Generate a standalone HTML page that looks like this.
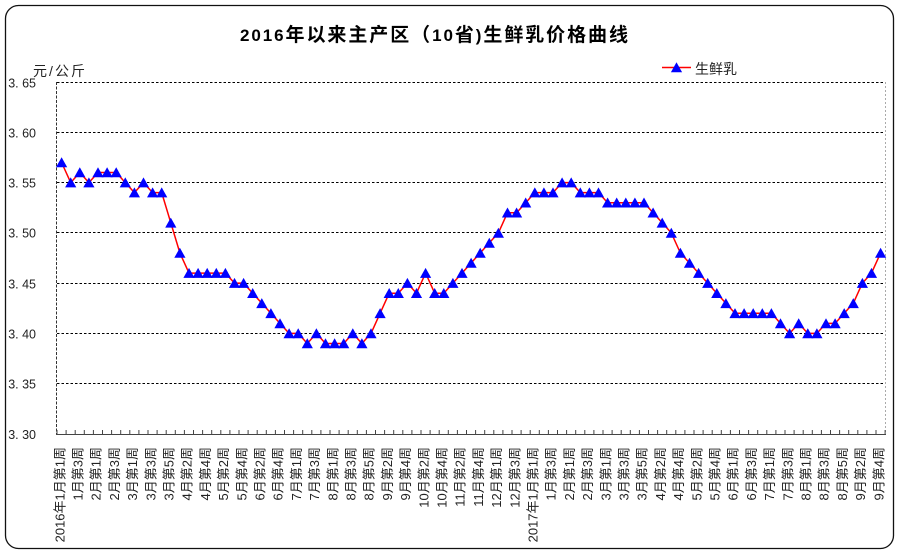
<!DOCTYPE html>
<html>
<head>
<meta charset="utf-8">
<style>
  html,body{margin:0;padding:0;background:#fff;}
  svg{display:block;}
  text{font-family:"Liberation Sans","Noto Sans CJK SC",sans-serif;}
</style>
</head>
<body>
<svg width="900" height="555" viewBox="0 0 900 555" xmlns="http://www.w3.org/2000/svg">
  <defs>
    <polygon id="t" points="0,-5.2 5.6,4.8 -5.6,4.8" fill="#0000ff"/>
  </defs>
  <rect x="0" y="0" width="900" height="555" fill="#fff"/>
  <!-- outer frame -->
  <rect x="5.5" y="5.5" width="888" height="543" rx="13" ry="13" fill="#fff" stroke="#111" stroke-width="1.3"/>

  <!-- title -->
  <text x="240" y="41" font-size="17" font-weight="bold" fill="#000" textLength="388" lengthAdjust="spacing">2016<tspan font-size="19">年以来主产区（</tspan>10<tspan font-size="19">省</tspan>)<tspan font-size="19">生鲜乳价格曲线</tspan></text>

  <!-- unit -->
  <text x="33" y="76" font-size="14" fill="#222" textLength="52" lengthAdjust="spacing">元/公斤</text>

  <!-- legend -->
  <line x1="662" y1="67.5" x2="691" y2="67.5" stroke="#ff0000" stroke-width="1.5"/>
  <use href="#t" x="676.5" y="67.5"/>
  <text x="695" y="74" font-size="14" fill="#222">生鲜乳</text>

  <!-- gridlines -->
  <g stroke="#000" stroke-width="1" stroke-dasharray="2.5,2" fill="none">
    <line x1="57" y1="82.5" x2="885" y2="82.5"/>
    <line x1="57" y1="132.5" x2="885" y2="132.5"/>
    <line x1="57" y1="182.5" x2="885" y2="182.5"/>
    <line x1="57" y1="232.5" x2="885" y2="232.5"/>
    <line x1="57" y1="283.5" x2="885" y2="283.5"/>
    <line x1="57" y1="333.5" x2="885" y2="333.5"/>
    <line x1="57" y1="383.5" x2="885" y2="383.5"/>
  </g>
  <!-- right plot border -->
  <line x1="885.5" y1="82" x2="885.5" y2="434" stroke="#aaa" stroke-width="1" stroke-dasharray="2,2"/>
  <!-- left axis -->
  <line x1="56.5" y1="82" x2="56.5" y2="434" stroke="#333" stroke-width="1" stroke-dasharray="3,1.5"/>
  <!-- bottom axis -->
  <line x1="56" y1="434.5" x2="886" y2="434.5" stroke="#444" stroke-width="1"/>
  <!-- ticks -->
  <line x1="56.5" y1="432" x2="886" y2="432" stroke="#444" stroke-width="4" stroke-dasharray="1,8.1"/>

  <!-- y labels -->
  <g font-size="12.5" fill="#222" text-anchor="end">
    <text x="36" y="87.5">3. 65</text>
    <text x="36" y="137.5">3. 60</text>
    <text x="36" y="187.5">3. 55</text>
    <text x="36" y="237.5">3. 50</text>
    <text x="36" y="288.5">3. 45</text>
    <text x="36" y="338.5">3. 40</text>
    <text x="36" y="388.5">3. 35</text>
    <text x="36" y="439">3. 30</text>
  </g>

  <!-- series line -->
  <polyline fill="none" stroke="#ff0000" stroke-width="1.5" stroke-linejoin="round" points="
61.6,162.5 70.7,182.6 79.8,172.5 88.9,182.6 98.0,172.5 107.1,172.5 116.2,172.5 125.3,182.6 134.4,192.6 143.5,182.6
152.6,192.6 161.7,192.6 170.8,222.8 179.9,253.0 189.0,273.1 198.1,273.1 207.2,273.1 216.3,273.1 225.4,273.1 234.5,283.1
243.6,283.1 252.7,293.2 261.8,303.3 270.9,313.3 280.0,323.4 289.1,333.4 298.2,333.4 307.3,343.5 316.4,333.4 325.5,343.5
334.6,343.5 343.7,343.5 352.8,333.4 361.9,343.5 371.0,333.4 380.1,313.3 389.2,293.2 398.3,293.2 407.4,283.1 416.5,293.2
425.6,273.1 434.7,293.2 443.8,293.2 452.9,283.1 462.0,273.1 471.1,263.0 480.2,253.0 489.3,242.9 498.4,232.9 507.5,212.7
516.6,212.7 525.7,202.7 534.8,192.6 543.9,192.6 553.0,192.6 562.1,182.6 571.2,182.6 580.3,192.6 589.4,192.6 598.5,192.6
607.6,202.7 616.7,202.7 625.8,202.7 634.9,202.7 644.0,202.7 653.1,212.7 662.2,222.8 671.3,232.9 680.4,253.0 689.5,263.0
698.6,273.1 707.7,283.1 716.8,293.2 725.9,303.3 735.0,313.3 744.1,313.3 753.2,313.3 762.3,313.3 771.4,313.3 780.5,323.4
789.6,333.4 798.7,323.4 807.8,333.4 816.9,333.4 826.0,323.4 835.1,323.4 844.2,313.3 853.3,303.3 862.4,283.1 871.5,273.1
880.6,253.0"/>

  <!-- markers -->
  <g>
    <use href="#t" x="61.6" y="162.5"/><use href="#t" x="70.7" y="182.6"/><use href="#t" x="79.8" y="172.5"/><use href="#t" x="88.9" y="182.6"/><use href="#t" x="98.0" y="172.5"/>
    <use href="#t" x="107.1" y="172.5"/><use href="#t" x="116.2" y="172.5"/><use href="#t" x="125.3" y="182.6"/><use href="#t" x="134.4" y="192.6"/><use href="#t" x="143.5" y="182.6"/>
    <use href="#t" x="152.6" y="192.6"/><use href="#t" x="161.7" y="192.6"/><use href="#t" x="170.8" y="222.8"/><use href="#t" x="179.9" y="253.0"/><use href="#t" x="189.0" y="273.1"/>
    <use href="#t" x="198.1" y="273.1"/><use href="#t" x="207.2" y="273.1"/><use href="#t" x="216.3" y="273.1"/><use href="#t" x="225.4" y="273.1"/><use href="#t" x="234.5" y="283.1"/>
    <use href="#t" x="243.6" y="283.1"/><use href="#t" x="252.7" y="293.2"/><use href="#t" x="261.8" y="303.3"/><use href="#t" x="270.9" y="313.3"/><use href="#t" x="280.0" y="323.4"/>
    <use href="#t" x="289.1" y="333.4"/><use href="#t" x="298.2" y="333.4"/><use href="#t" x="307.3" y="343.5"/><use href="#t" x="316.4" y="333.4"/><use href="#t" x="325.5" y="343.5"/>
    <use href="#t" x="334.6" y="343.5"/><use href="#t" x="343.7" y="343.5"/><use href="#t" x="352.8" y="333.4"/><use href="#t" x="361.9" y="343.5"/><use href="#t" x="371.0" y="333.4"/>
    <use href="#t" x="380.1" y="313.3"/><use href="#t" x="389.2" y="293.2"/><use href="#t" x="398.3" y="293.2"/><use href="#t" x="407.4" y="283.1"/><use href="#t" x="416.5" y="293.2"/>
    <use href="#t" x="425.6" y="273.1"/><use href="#t" x="434.7" y="293.2"/><use href="#t" x="443.8" y="293.2"/><use href="#t" x="452.9" y="283.1"/><use href="#t" x="462.0" y="273.1"/>
    <use href="#t" x="471.1" y="263.0"/><use href="#t" x="480.2" y="253.0"/><use href="#t" x="489.3" y="242.9"/><use href="#t" x="498.4" y="232.9"/><use href="#t" x="507.5" y="212.7"/>
    <use href="#t" x="516.6" y="212.7"/><use href="#t" x="525.7" y="202.7"/><use href="#t" x="534.8" y="192.6"/><use href="#t" x="543.9" y="192.6"/><use href="#t" x="553.0" y="192.6"/>
    <use href="#t" x="562.1" y="182.6"/><use href="#t" x="571.2" y="182.6"/><use href="#t" x="580.3" y="192.6"/><use href="#t" x="589.4" y="192.6"/><use href="#t" x="598.5" y="192.6"/>
    <use href="#t" x="607.6" y="202.7"/><use href="#t" x="616.7" y="202.7"/><use href="#t" x="625.8" y="202.7"/><use href="#t" x="634.9" y="202.7"/><use href="#t" x="644.0" y="202.7"/>
    <use href="#t" x="653.1" y="212.7"/><use href="#t" x="662.2" y="222.8"/><use href="#t" x="671.3" y="232.9"/><use href="#t" x="680.4" y="253.0"/><use href="#t" x="689.5" y="263.0"/>
    <use href="#t" x="698.6" y="273.1"/><use href="#t" x="707.7" y="283.1"/><use href="#t" x="716.8" y="293.2"/><use href="#t" x="725.9" y="303.3"/><use href="#t" x="735.0" y="313.3"/>
    <use href="#t" x="744.1" y="313.3"/><use href="#t" x="753.2" y="313.3"/><use href="#t" x="762.3" y="313.3"/><use href="#t" x="771.4" y="313.3"/><use href="#t" x="780.5" y="323.4"/>
    <use href="#t" x="789.6" y="333.4"/><use href="#t" x="798.7" y="323.4"/><use href="#t" x="807.8" y="333.4"/><use href="#t" x="816.9" y="333.4"/><use href="#t" x="826.0" y="323.4"/>
    <use href="#t" x="835.1" y="323.4"/><use href="#t" x="844.2" y="313.3"/><use href="#t" x="853.3" y="303.3"/><use href="#t" x="862.4" y="283.1"/><use href="#t" x="871.5" y="273.1"/>
    <use href="#t" x="880.6" y="253.0"/>
  </g>

  <!-- x labels -->
  <g font-size="13" fill="#222" text-anchor="end">
    <text transform="translate(64.3,447) rotate(-90)">2016年1月第1周</text>
    <text transform="translate(82.5,447) rotate(-90)">1月第3周</text>
    <text transform="translate(100.7,447) rotate(-90)">2月第1周</text>
    <text transform="translate(118.9,447) rotate(-90)">2月第3周</text>
    <text transform="translate(137.1,447) rotate(-90)">3月第1周</text>
    <text transform="translate(155.3,447) rotate(-90)">3月第3周</text>
    <text transform="translate(173.5,447) rotate(-90)">3月第5周</text>
    <text transform="translate(191.7,447) rotate(-90)">4月第2周</text>
    <text transform="translate(209.9,447) rotate(-90)">4月第4周</text>
    <text transform="translate(228.1,447) rotate(-90)">5月第2周</text>
    <text transform="translate(246.3,447) rotate(-90)">5月第4周</text>
    <text transform="translate(264.5,447) rotate(-90)">6月第2周</text>
    <text transform="translate(282.7,447) rotate(-90)">6月第4周</text>
    <text transform="translate(300.9,447) rotate(-90)">7月第1周</text>
    <text transform="translate(319.1,447) rotate(-90)">7月第3周</text>
    <text transform="translate(337.3,447) rotate(-90)">8月第1周</text>
    <text transform="translate(355.5,447) rotate(-90)">8月第3周</text>
    <text transform="translate(373.7,447) rotate(-90)">8月第5周</text>
    <text transform="translate(391.9,447) rotate(-90)">9月第2周</text>
    <text transform="translate(410.1,447) rotate(-90)">9月第4周</text>
    <text transform="translate(428.3,447) rotate(-90)">10月第2周</text>
    <text transform="translate(446.5,447) rotate(-90)">10月第4周</text>
    <text transform="translate(464.7,447) rotate(-90)">11月第2周</text>
    <text transform="translate(482.9,447) rotate(-90)">11月第4周</text>
    <text transform="translate(501.1,447) rotate(-90)">12月第1周</text>
    <text transform="translate(519.3,447) rotate(-90)">12月第3周</text>
    <text transform="translate(537.5,447) rotate(-90)">2017年1月第1周</text>
    <text transform="translate(555.7,447) rotate(-90)">1月第3周</text>
    <text transform="translate(573.9,447) rotate(-90)">2月第1周</text>
    <text transform="translate(592.1,447) rotate(-90)">2月第3周</text>
    <text transform="translate(610.3,447) rotate(-90)">3月第1周</text>
    <text transform="translate(628.5,447) rotate(-90)">3月第3周</text>
    <text transform="translate(646.7,447) rotate(-90)">3月第5周</text>
    <text transform="translate(664.9,447) rotate(-90)">4月第2周</text>
    <text transform="translate(683.1,447) rotate(-90)">4月第4周</text>
    <text transform="translate(701.3,447) rotate(-90)">5月第2周</text>
    <text transform="translate(719.5,447) rotate(-90)">5月第4周</text>
    <text transform="translate(737.7,447) rotate(-90)">6月第1周</text>
    <text transform="translate(755.9,447) rotate(-90)">6月第3周</text>
    <text transform="translate(774.1,447) rotate(-90)">7月第1周</text>
    <text transform="translate(792.3,447) rotate(-90)">7月第3周</text>
    <text transform="translate(810.5,447) rotate(-90)">8月第1周</text>
    <text transform="translate(828.7,447) rotate(-90)">8月第3周</text>
    <text transform="translate(846.9,447) rotate(-90)">8月第5周</text>
    <text transform="translate(865.1,447) rotate(-90)">9月第2周</text>
    <text transform="translate(883.3,447) rotate(-90)">9月第4周</text>
  </g>
</svg>
</body>
</html>
